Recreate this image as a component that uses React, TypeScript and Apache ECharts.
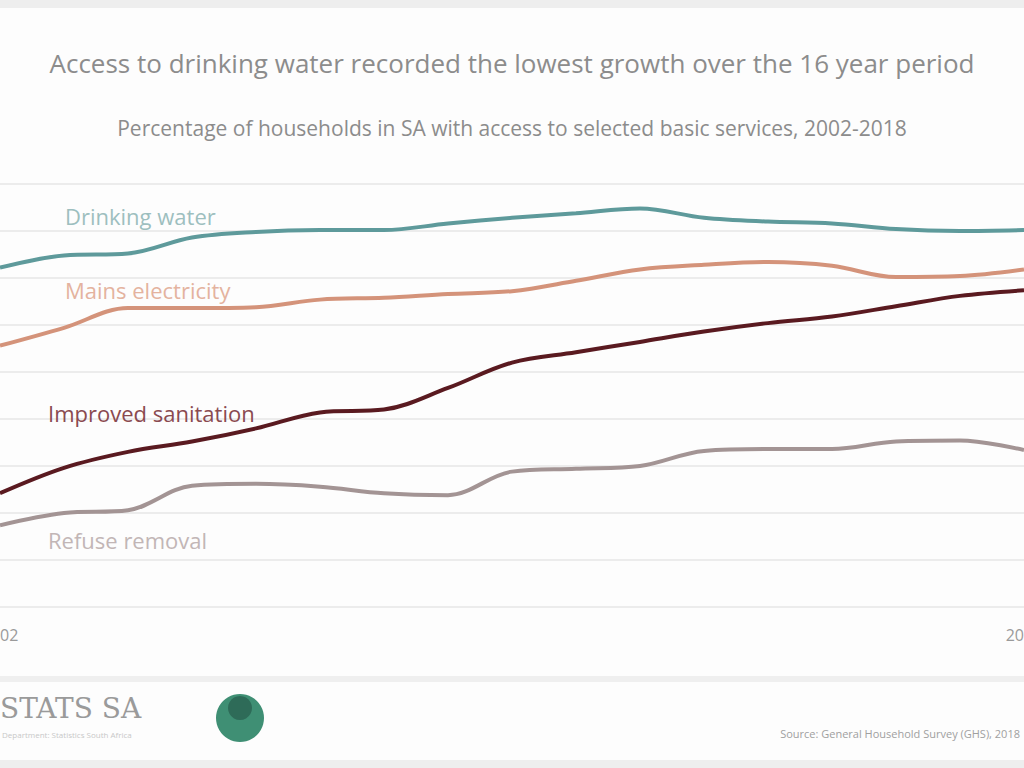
import { useEffect, useRef } from 'react'
import * as echarts from 'echarts'

const years = ['2002', '2003', '2004', '2005', '2006', '2007', '2008', '2009', '2010', '2011', '2012', '2013', '2014', '2015', '2016', '2017', '2018']

const drinkingWater = [86.1, 87.4, 87.6, 89.3, 89.9, 90.1, 90.1, 90.8, 91.4, 91.9, 92.4, 91.4, 91.0, 90.8, 90.2, 90.0, 90.1]
const mainsElectricity = [77.8, 79.7, 81.8, 81.8, 81.9, 82.7, 82.9, 83.3, 83.6, 84.7, 85.9, 86.4, 86.7, 86.3, 85.1, 85.2, 85.9]
const improvedSanitation = [62.1, 64.8, 66.5, 67.6, 69.0, 70.7, 71.0, 73.3, 76.0, 77.1, 78.2, 79.3, 80.2, 80.9, 82.0, 83.1, 83.7]
const refuseRemoval = [58.7, 60.0, 60.3, 62.9, 63.1, 62.8, 62.1, 61.9, 64.4, 64.7, 65.0, 66.6, 66.8, 66.8, 67.6, 67.7, 66.7]

const seriesNames = ['Drinking water', 'Mains electricity', 'Improved sanitation', 'Refuse removal']
const lineColors = ['#5e9a9b', '#d4937a', '#5a1a20', '#a39494']
const labelColors = ['#9dbfbf', '#e4b39f', '#8a4a50', '#c2b6b6']

const titleText = 'Access to drinking water recorded the lowest growth over the 16 year period'
const subtitleText = 'Percentage of households in SA with access to selected basic services, 2002-2018'
const sourceText = 'Source: General Household Survey (GHS), 2018'

const App = () => {
  const chartRef = useRef<HTMLDivElement | null>(null)

  useEffect(() => {
    if (!chartRef.current) return
    const chart = echarts.init(chartRef.current, null, { renderer: 'svg' })

    const values = [drinkingWater, mainsElectricity, improvedSanitation, refuseRemoval]
    // label positions next to the start of each line
    const labelPos = [
      [65, 216],
      [65, 290],
      [48, 413],
      [48, 540]
    ]

    const option = {
      animation: false,
      backgroundColor: '#fdfdfd',
      title: [
        {
          text: titleText,
          left: 'center',
          top: 45,
          textStyle: { color: '#8c8c8c', fontSize: 26, fontWeight: 'normal', fontFamily: 'Open Sans' }
        },
        {
          text: subtitleText,
          left: 'center',
          top: 112,
          textStyle: { color: '#8c8c8c', fontSize: 21, fontWeight: 'normal', fontFamily: 'Open Sans' }
        }
      ],
      grid: {
        left: 0,
        right: 0,
        top: 184,
        bottom: 161,
        containLabel: false,
        outerBoundsMode: 'none'
      },
      xAxis: {
        type: 'category',
        data: years,
        boundaryGap: false,
        axisLine: { show: false },
        axisTick: { show: false },
        axisLabel: {
          interval: (idx: number) => idx === 0 || idx === years.length - 1,
          color: '#9a9a9a',
          fontSize: 16,
          margin: 20,
          fontFamily: 'Open Sans'
        }
      },
      yAxis: {
        type: 'value',
        min: 50,
        max: 95,
        interval: 5,
        axisLabel: { show: false },
        axisLine: { show: false },
        axisTick: { show: false },
        splitLine: { lineStyle: { color: '#ececec', width: 2 } }
      },
      series: values.map((data, i) => ({
        name: seriesNames[i],
        type: 'line',
        data: data,
        smooth: 0.35,
        symbol: 'none',
        lineStyle: { width: 4, color: lineColors[i] }
      })),
      graphic: [
        { type: 'rect', shape: { x: 0, y: 0, width: 1024, height: 8 }, style: { fill: '#eeeeee' } },
        { type: 'rect', shape: { x: 0, y: 676, width: 1024, height: 6 }, style: { fill: '#efefef' } },
        { type: 'rect', shape: { x: 0, y: 760, width: 1024, height: 8 }, style: { fill: '#eeeeee' } },
        ...seriesNames.map((name, i) => ({
          type: 'text',
          x: labelPos[i][0],
          y: labelPos[i][1],
          z: 100,
          style: {
            text: name,
            fill: labelColors[i],
            fontSize: 22,
            fontFamily: 'Open Sans',
            verticalAlign: 'middle'
          }
        })),
        {
          type: 'text',
          x: 0,
          y: 694,
          style: { text: 'STATS SA', fill: '#9a9a9a', fontSize: 28, fontFamily: 'DejaVu Serif' }
        },
        {
          type: 'text',
          x: 2,
          y: 730,
          style: { text: 'Department: Statistics South Africa', fill: '#c8c8c8', fontSize: 8, fontFamily: 'Open Sans' }
        },
        {
          type: 'circle',
          shape: { cx: 240, cy: 718, r: 24 },
          style: { fill: '#3f8f74' }
        },
        {
          type: 'circle',
          shape: { cx: 240, cy: 708, r: 12 },
          style: { fill: '#2e6b58' }
        },
        {
          type: 'text',
          x: 1020,
          y: 733,
          style: { text: sourceText, fill: '#a0a0a0', fontSize: 11, fontFamily: 'Open Sans', align: 'right', verticalAlign: 'middle' }
        }
      ]
    }

    chart.setOption(option)
    return () => chart.dispose()
  }, [])

  return (
    <div style={{ position: 'absolute', left: 0, top: 0, width: 1024, height: 768 }}>
      <div ref={chartRef} style={{ width: 1024, height: 768 }} />
    </div>
  )
}

export default App
